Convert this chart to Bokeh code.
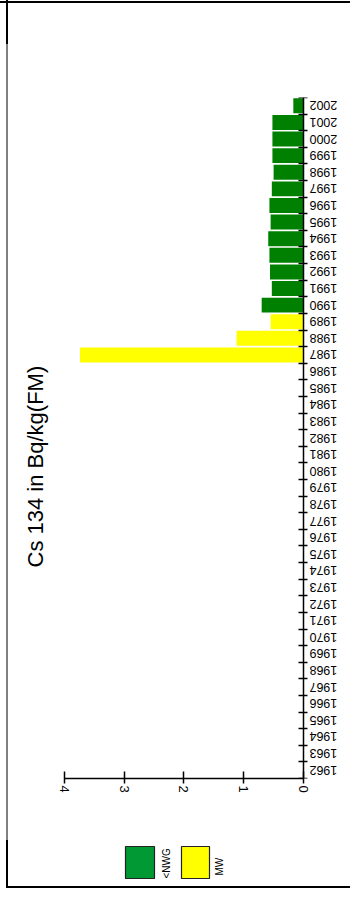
import math
from bokeh.plotting import figure
from bokeh.layouts import column
from bokeh.models import ColumnDataSource, Range1d, FixedTicker
from bokeh.core.properties import value
from bokeh.embed import file_html
from bokeh.resources import INLINE

# ---- data ----
years = list(range(1962, 2003))
bar_years = [1987, 1988, 1989, 1990, 1991, 1992, 1993, 1994, 1995, 1996,
             1997, 1998, 1999, 2000, 2001, 2002]
bar_values = [3.74, 1.12, 0.55, 0.70, 0.53, 0.56, 0.57, 0.59, 0.55, 0.57,
              0.53, 0.50, 0.52, 0.52, 0.52, 0.17]
bar_series = ["MW", "MW", "MW", "<NWG", "<NWG", "<NWG", "<NWG", "<NWG", "<NWG", "<NWG",
              "<NWG", "<NWG", "<NWG", "<NWG", "<NWG", "<NWG"]
series_names = ["<NWG", "MW"]
series_colors = {"<NWG": "#008000", "MW": "#FFFF00"}
legend_colors = {"<NWG": "#009933", "MW": "#FFFF00"}
value_ticks = [0, 1, 2, 3, 4]
title_text = "Cs 134 in Bq/kg(FM)"

FONT = "Liberation Sans"

# ---------------- main chart ----------------
# frame spans past the value-0 line so the upside-down year labels stay inside it
p = figure(width=350, height=812, output_backend="svg", toolbar_location=None,
           x_range=Range1d(4, -0.72), y_range=Range1d(1961.5, 2002.5),
           x_axis_location="below", y_axis_location="left",
           title=title_text, title_location="left",
           min_border_left=64, min_border_right=4, min_border_top=97,
           min_border_bottom=34)
p.outline_line_color = None
p.grid.visible = False
p.background_fill_color = None
p.border_fill_color = None

p.title.text_font = FONT
p.title.text_font_size = "22px"
p.title.text_font_style = "normal"
p.title.text_color = "black"
p.title.align = "left"
p.title.offset = 211
p.title.standoff = 34

src = ColumnDataSource(dict(y=bar_years, v=bar_values,
                            c=[series_colors[s] for s in bar_series]))
p.hbar(y="y", right="v", left=0, height=0.9, fill_color="c", line_color=None, source=src)

# x (value) axis
xa = p.xaxis[0]
xa.bounds = (0, 4)
xa.ticker = FixedTicker(ticks=value_ticks, minor_ticks=[])
xa.major_label_orientation = "vertical"
xa.major_tick_in = 7
xa.major_tick_out = 5
xa.minor_tick_in = 0
xa.minor_tick_out = 0
xa.major_label_standoff = 2
xa.major_label_text_font = FONT
xa.major_label_text_font_size = "13px"
xa.major_label_text_color = "black"
xa.axis_line_color = "black"
xa.axis_line_width = 1.5
xa.major_tick_line_width = 1.5

# y (year) axis: drawn at value 0, labels upside down to its right
ya = p.yaxis[0]
ya.fixed_location = 0
ya.ticker = FixedTicker(ticks=years, minor_ticks=[y - 0.5 for y in years] + [years[-1] + 0.5])
ya.major_tick_in = 0
ya.major_tick_out = 0
ya.minor_tick_in = 4
ya.minor_tick_out = 5
ya.major_label_orientation = math.pi
ya.major_label_standoff = -11
ya.major_label_text_font = FONT
ya.major_label_text_font_size = "12.5px"
ya.major_label_text_color = "black"
ya.axis_line_color = "black"
ya.axis_line_width = 1.5
ya.minor_tick_line_color = "black"
ya.minor_tick_line_width = 1.5

# ---------------- legend strip (rotated texts) ----------------
leg = figure(width=350, height=86, output_backend="svg", toolbar_location=None,
             x_range=Range1d(64, 346), y_range=Range1d(86, 0),
             min_border_left=64, min_border_right=4,
             min_border_top=0, min_border_bottom=0)
leg.axis.visible = False
leg.grid.visible = False
leg.outline_line_color = None
leg.background_fill_color = None
leg.border_fill_color = None

sw_left = [125, 181]
sw_right = [154, 209]
lab_x = [166, 219]
leg.quad(left=sw_left, right=sw_right, top=[34, 34], bottom=[66, 66],
         fill_color=[legend_colors[s] for s in series_names], line_color="#222222", line_width=1.2)
leg.text(x=lab_x, y=[66, 63], text=series_names, angle=math.pi / 2,
         text_align="left", text_baseline="alphabetic",
         text_font=value(FONT), text_font_size="10px", text_color="black")

layout = column(p, leg, spacing=0)
layout.styles = {
    "background-color": "white",
    "background-image": "linear-gradient(black, black), linear-gradient(black, black), "
                        "linear-gradient(#808080, #808080), linear-gradient(black, black), "
                        "linear-gradient(black, black)",
    "background-size": "350px 2px, 2px 44px, 2px 796px, 2px 48px, 344px 2px",
    "background-position": "0px 1px, 6px 0px, 6px 44px, 6px 840px, 6px 886px",
    "background-repeat": "no-repeat",
}
open("out.html", "w").write(file_html(layout, INLINE))
